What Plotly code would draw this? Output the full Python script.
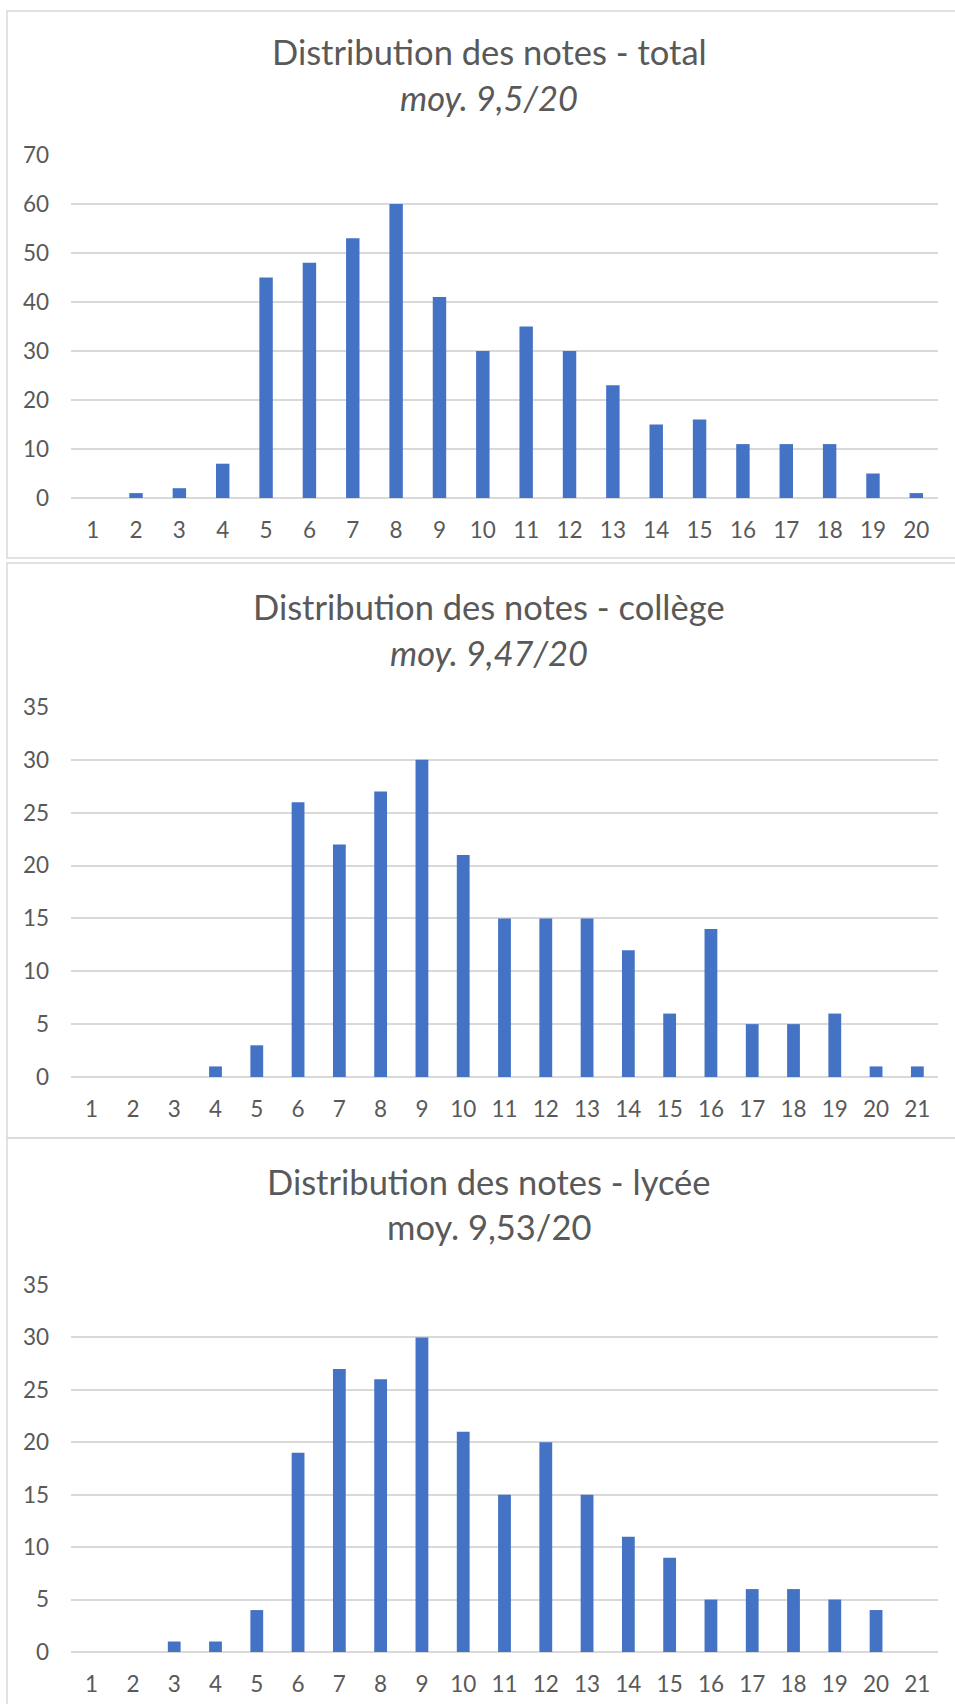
import plotly.graph_objects as go

W, H = 955, 1704

notes_total = list(range(1, 21))
counts_total = [0, 1, 2, 7, 45, 48, 53, 60, 41, 30, 35, 30, 23, 15, 16, 11, 11, 11, 5, 1]

notes_college = list(range(1, 22))
counts_college = [0, 0, 0, 1, 3, 26, 22, 27, 30, 21, 15, 15, 15, 12, 6, 14, 5, 5, 6, 1, 1]

notes_lycee = list(range(1, 22))
counts_lycee = [0, 0, 1, 1, 4, 19, 27, 26, 30, 21, 15, 20, 15, 11, 9, 5, 6, 6, 5, 4, 0]

titles = ["Distribution des notes - total",
          "Distribution des notes - collège",
          "Distribution des notes - lycée"]
subtitles = ["moy. 9,5/20", "moy. 9,47/20", "moy. 9,53/20"]
subtitle_italic = [True, True, False]
ymax = [70, 35, 35]
ydtick = [10, 5, 5]

BAR = "#4472C4"
GRID = "#D9D9D9"
TXT = "#595959"
FONT = "Lato"

def py(px):
    return 1 - px / H

def px_x(px):
    return px / W

plot_y = [(155, 498), (707, 1077), (1285, 1652)]
title_y = [(52, 97), (606, 652), (1181, 1226)]
borders = [(11, 558), (563, 1138), (1138, 1730)]
x0, x1 = 71, 938

series = [(notes_total, counts_total), (notes_college, counts_college), (notes_lycee, counts_lycee)]

fig = go.Figure()
shapes = []
annotations = []
for i, (xs, ys) in enumerate(series):
    ax = "" if i == 0 else str(i + 1)
    fig.add_trace(go.Bar(x=xs, y=ys, marker=dict(color=BAR, line=dict(width=0)),
                         xaxis="x" + ax, yaxis="y" + ax, width=0.31, showlegend=False,
                         hoverinfo="skip"))
    top, bot = plot_y[i]
    fig.layout["xaxis" + ax] = dict(
        domain=[px_x(x0), px_x(x1)], anchor="y" + ax,
        range=[0.5, len(xs) + 0.5], tickmode="array", tickvals=xs,
        ticktext=[str(v) for v in xs], showgrid=False, zeroline=False,
        showline=False, ticks="", ticklabelstandoff=16, automargin=False,
        tickfont=dict(family=FONT, size=22.5, color=TXT), fixedrange=True)
    fig.layout["yaxis" + ax] = dict(
        domain=[py(bot), py(top)], anchor="x" + ax,
        range=[0, ymax[i]], dtick=ydtick[i], tick0=0,
        showgrid=True, gridcolor=GRID, gridwidth=1.5,
        zeroline=True, zerolinecolor=GRID, zerolinewidth=1.5,
        showline=False, ticks="", ticklabelstandoff=21, automargin=False,
        tickfont=dict(family=FONT, size=22.5, color=TXT), fixedrange=True)
    bt, bb = borders[i]
    shapes.append(dict(type="rect", xref="paper", yref="paper",
                       x0=px_x(7), x1=px_x(985), y0=py(bb), y1=py(bt),
                       line=dict(color=GRID, width=1.5), fillcolor="rgba(0,0,0,0)",
                       layer="below"))
    t1, t2 = title_y[i]
    annotations.append(dict(text=titles[i], xref="paper", yref="paper",
                            x=px_x(489), y=py(t1), xanchor="center", yanchor="middle",
                            showarrow=False, font=dict(family=FONT, size=34.5, color=TXT)))
    sub = f"<i>{subtitles[i]}</i>" if subtitle_italic[i] else subtitles[i]
    annotations.append(dict(text=sub, xref="paper", yref="paper",
                            x=px_x(489), y=py(t2), xanchor="center", yanchor="middle",
                            showarrow=False, font=dict(family=FONT, size=34.5, color=TXT)))

fig.update_layout(width=W, height=H, autosize=False,
                  margin=dict(l=0, r=0, t=0, b=0, pad=0, autoexpand=False),
                  paper_bgcolor="white", plot_bgcolor="white", showlegend=False,
                  shapes=shapes, annotations=annotations, bargap=0.69)

page_css = ("document.documentElement.style.margin='0';"
            "document.documentElement.style.padding='0';"
            "document.documentElement.style.overflow='hidden';"
            "document.body.style.margin='0';"
            "document.body.style.padding='0';"
            "document.body.style.overflow='hidden';")

fig.write_html("out.html", post_script=page_css, config={"displayModeBar": False})
